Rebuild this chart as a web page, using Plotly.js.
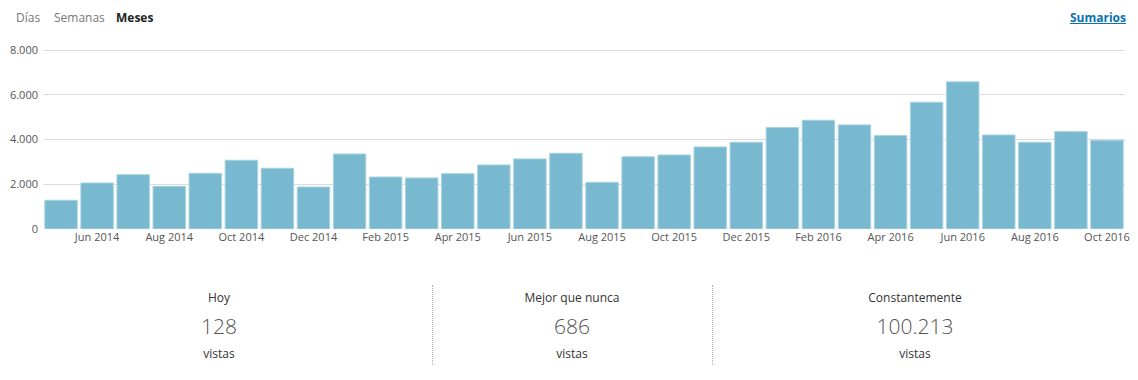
<!DOCTYPE html>
<html>
<head>
<meta charset="utf-8">
<script src="https://cdn.plot.ly/plotly-3.0.1.min.js"></script>
<style>
  html, body { margin: 0; padding: 0; background: #fff; }
  body { width: 1138px; height: 380px; position: relative; overflow: hidden; font-family: "Open Sans", "Noto Sans", sans-serif; }
  #chart { position: absolute; left: 0; top: 0; width: 1138px; height: 380px; }
  .tab { position: absolute; top: 9px; font-size: 12px; color: #777; }
  .tab.active { color: #222; font-weight: bold; }
  .link { position: absolute; top: 9px; right: 12px; font-size: 12px; font-weight: bold; color: #0a72b5; text-decoration: underline; }
  .stat { position: absolute; width: 300px; text-align: center; }
  .stat .lbl { position: absolute; top: 289px; width: 100%; font-size: 12px; color: #333; }
  .stat .num { position: absolute; top: 312px; width: 100%; font-size: 21px; font-weight: 300; color: #555; }
  .stat .unit { position: absolute; top: 345px; width: 100%; font-size: 12px; color: #333; }
  .sep { position: absolute; top: 285px; height: 80px; width: 0; border-left: 1px dotted #aaa; }
</style>
</head>
<body>
<div id="chart"></div>
<div id="overlay"></div>
<script>
// Data
const months = [
  "May 2014","Jun 2014","Jul 2014","Aug 2014","Sep 2014","Oct 2014","Nov 2014","Dec 2014",
  "Jan 2015","Feb 2015","Mar 2015","Apr 2015","May 2015","Jun 2015","Jul 2015","Aug 2015",
  "Sep 2015","Oct 2015","Nov 2015","Dec 2015","Jan 2016","Feb 2016","Mar 2016","Apr 2016",
  "May 2016","Jun 2016","Jul 2016","Aug 2016","Sep 2016","Oct 2016"
];
const views = [
  1285, 2060, 2430, 1910, 2490, 3075, 2715, 1880,
  3355, 2325, 2285, 2475, 2865, 3135, 3385, 2090,
  3230, 3310, 3670, 3880, 4535, 4865, 4655, 4180,
  5670, 6580, 4205, 3880, 4355, 3970
];
const tickLabels = [
  "Jun 2014","Aug 2014","Oct 2014","Dec 2014","Feb 2015","Apr 2015","Jun 2015","Aug 2015",
  "Oct 2015","Dec 2015","Feb 2016","Apr 2016","Jun 2016","Aug 2016","Oct 2016"
];
const yTicks = [0, 2000, 4000, 6000, 8000];
const tabs = ["Días", "Semanas", "Meses"];
const statLabels = ["Hoy", "Mejor que nunca", "Constantemente"];
const statValues = ["128", "686", "100.213"];
const statUnit = "vistas";

const trace = {
  type: "bar",
  x: months,
  y: views,
  marker: { color: "#78b9cf", line: { color: "#a8d3e2", width: 1 } },
  hoverinfo: "x+y"
};

const layout = {
  width: 1138,
  height: 380,
  margin: { l: 43, r: 13, t: 49, b: 151 },
  paper_bgcolor: "#fff",
  plot_bgcolor: "#fff",
  separators: ",.",
  bargap: 0.1,
  showlegend: false,
  font: { family: "Open Sans, Noto Sans, sans-serif", size: 11, color: "#555" },
  xaxis: {
    type: "category",
    tickmode: "array",
    tickvals: tickLabels,
    ticktext: tickLabels,
    showgrid: false,
    zeroline: false,
    showline: false,
    ticks: "",
    tickfont: { size: 11, color: "#555" },
    fixedrange: true
  },
  yaxis: {
    range: [0, 8050],
    tickmode: "array",
    tickvals: yTicks,
    tickformat: ",d",
    showgrid: true,
    gridcolor: "#dcdcdc",
    gridwidth: 1,
    zeroline: false,
    showline: false,
    ticks: "",
    ticklabelstandoff: 4,
    tickfont: { size: 11, color: "#555" },
    fixedrange: true
  }
};

Plotly.newPlot("chart", [trace], layout, { displayModeBar: false, staticPlot: true });

// Overlay text (tabs, link, stats)
const ov = document.getElementById("overlay");
const tabX = [16, 54, 116];
tabs.forEach((t, i) => {
  const d = document.createElement("div");
  d.className = "tab" + (i === 2 ? " active" : "");
  d.style.left = tabX[i] + "px";
  d.textContent = t;
  ov.appendChild(d);
});
const link = document.createElement("div");
link.className = "link";
link.textContent = "Sumarios";
ov.appendChild(link);

const centers = [219, 572, 915];
statLabels.forEach((lbl, i) => {
  const s = document.createElement("div");
  s.className = "stat";
  s.style.left = (centers[i] - 150) + "px";
  s.innerHTML = '<div class="lbl"></div><div class="num"></div><div class="unit"></div>';
  s.querySelector(".lbl").textContent = lbl;
  s.querySelector(".num").textContent = statValues[i];
  s.querySelector(".unit").textContent = statUnit;
  ov.appendChild(s);
});
[432, 712].forEach(x => {
  const d = document.createElement("div");
  d.className = "sep";
  d.style.left = x + "px";
  ov.appendChild(d);
});
</script>
</body>
</html>
